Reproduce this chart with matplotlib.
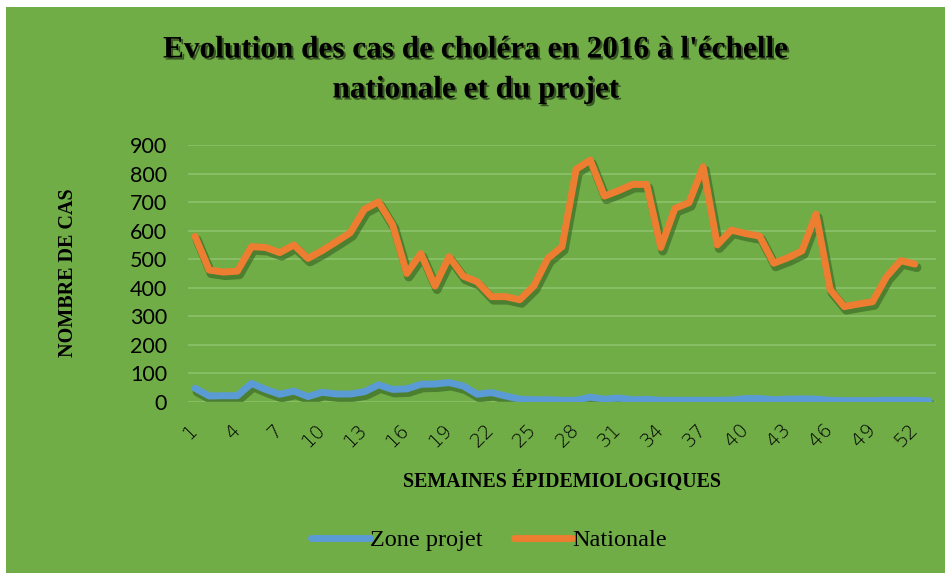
import matplotlib
matplotlib.use("Agg")
import matplotlib.pyplot as plt
import matplotlib.patheffects as pe
from matplotlib.patches import Rectangle
from matplotlib.font_manager import FontProperties

weeks = list(range(1, 54))
nationale = [580, 462, 455, 458, 544, 541, 523, 550, 503, 530, 561, 593, 675, 701,
             620, 450, 520, 406, 509, 441, 421, 369, 369, 358, 406, 503, 544, 815,
             847, 721, 740, 762, 762, 541, 678, 698, 824, 550, 602, 590, 581, 486,
             505, 529, 658, 394, 334, 343, 351, 439, 495, 483]
zone_projet = [48, 21, 22, 22, 65, 44, 27, 38, 19, 34, 28, 28, 36, 60, 44, 46, 62,
               63, 68, 56, 27, 33, 21, 10, 8, 8, 6, 6, 17, 10, 14, 8, 9, 6, 6, 6,
               6, 6, 7, 12, 12, 8, 10, 11, 10, 6, 5, 5, 5, 6, 6, 6, 4]
tick_weeks = list(range(1, 53, 3))
title = "Evolution des cas de choléra en 2016 à l'échelle\nnationale et du projet"

GREEN = "#70AD47"
BLUE = "#5B9BD5"
ORANGE = "#ED7D31"
SHADOW = "#2F5A1C"

fig = plt.figure(figsize=(9.52, 5.79), dpi=100)
fig.patch.set_facecolor("white")
fig.add_artist(Rectangle((6 / 952, 1 - 573 / 579), (945 - 6) / 952, (573 - 7) / 579,
                         transform=fig.transFigure, facecolor=GREEN, edgecolor="none", zorder=0))

ax = fig.add_axes([188 / 952, 1 - 402 / 579, (936 - 188) / 952, (402 - 145) / 579])
ax.set_facecolor("none")
ax.set_xlim(0.5, 53.5)
ax.set_ylim(0, 900)
ax.set_yticks(range(0, 901, 100))
ax.yaxis.grid(True, color="#8CC26C", linewidth=1.2)
ax.set_axisbelow(True)
for s in ax.spines.values():
    s.set_visible(False)
ax.tick_params(axis="both", length=0)
ax.tick_params(axis="y", labelsize=15.5, pad=15)
ax.set_xticks(tick_weeks)
ax.set_xticklabels([str(w) for w in tick_weeks], rotation=45, fontsize=14,
                   ha="right", va="center", rotation_mode="anchor")
ax.tick_params(axis="x", pad=18)
for lab in ax.get_yticklabels():
    lab.set_family("Lato")
    lab.set_color("black")
for lab in ax.get_xticklabels():
    lab.set_family("DejaVu Sans")
    lab.set_fontweight("light")
    lab.set_color("black")

shadow = [pe.SimpleLineShadow(offset=(1.5, -2.5), shadow_color=SHADOW, alpha=0.55, linewidth=6.5),
          pe.Normal()]
l1, = ax.plot(weeks, zone_projet, color=BLUE, lw=5, solid_joinstyle="round",
              solid_capstyle="round", path_effects=shadow, label="Zone projet")
l2, = ax.plot(weeks[:len(nationale)], nationale, color=ORANGE, lw=5, solid_joinstyle="round",
              solid_capstyle="round", path_effects=shadow, label="Nationale")

fig.text(0.5, 1 - 70 / 579, title, ha="center", va="center", fontsize=22.5,
         family="Liberation Serif", fontweight="bold", linespacing=1.5,
         path_effects=[pe.withSimplePatchShadow(offset=(1.5, -1.5), shadow_rgbFace="black", alpha=0.5)])
fig.text(68 / 952, 1 - 273 / 579, "NOMBRE DE CAS", rotation=90, ha="center", va="center",
         fontsize=14.5, family="Liberation Serif", fontweight="bold")
fig.text(562 / 952, 1 - 481 / 579, "SEMAINES ÉPIDEMIOLOGIQUES", ha="center", va="center",
         fontsize=14.3, family="Liberation Serif", fontweight="bold")

leg = fig.legend(handles=[l1, l2], loc="center", bbox_to_anchor=(489 / 952, 1 - 540 / 579),
                 ncol=2, frameon=False,
                 prop=FontProperties(family="Liberation Serif", size=17.5),
                 handlelength=2.4, handletextpad=0.0, columnspacing=1.3)
for h in leg.legend_handles:
    h.set_path_effects([])
    h.set_linewidth(5)
    h.set_solid_capstyle("round")

fig.savefig("out.png", dpi=100)
